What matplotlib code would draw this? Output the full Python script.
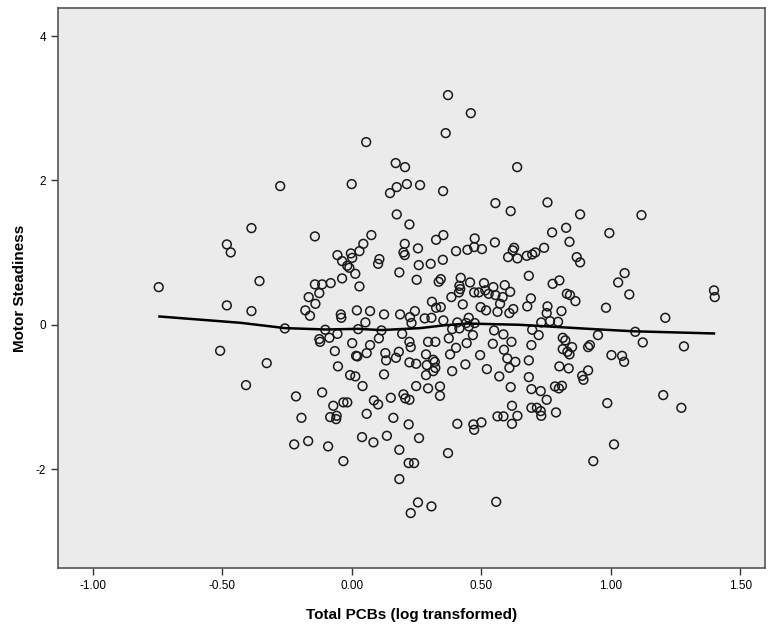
import matplotlib
matplotlib.use("Agg")
import matplotlib.pyplot as plt
import numpy as np

# Data
pcb_log = [
    -0.276, 0.000, 0.056, 0.170, 0.206, 0.213, 0.174, 0.148, 0.264, 0.372, 0.460, 0.363, 0.639, 0.353,
    -0.482, -0.467, -0.745, -0.482, -0.508,
    0.174, 0.223, -0.387, -0.142, 0.076, 0.045, 0.205, 0.030, -0.003, -0.055, 0.002, 0.200, 0.205, 0.256,
    0.107, 0.102, -0.037, -0.017, -0.009, 0.259, 0.014, 0.184, -0.356, -0.037, 0.251, -0.142, -0.114,
    -0.081, 0.030, -0.125, -0.166, -0.140, -0.179, -0.161, -0.387, 0.020, 0.071, 0.125, 0.187, 0.244,
    -0.042, -0.040, 0.225, 0.053, 0.231, -0.258, -0.102, 0.025, 0.115, -0.055, -0.086, -0.125, -0.122,
    0.195, 0.105, 0.002, 0.071, 0.223, 0.228, -0.065, 0.017, 0.022, 0.058, 0.130, 0.133, 0.171, 0.182,
    -0.328, -0.053, 0.223, 0.249, 0.125, -0.006, 0.014, -0.408, 0.042, 0.249,
    0.555, 0.756, 0.614, 0.882, 0.828, 0.774, 0.354, 0.326, 0.475, 0.553, 0.841, 0.403, 0.447, 0.473,
    0.503, 0.627, 0.622, 0.604, 0.640, 0.676, 0.697, 0.709, 0.743, 0.869, 0.882, 0.352, 0.305, 0.684,
    0.344, 0.336, 0.421, 0.457, 0.511, 0.547, 0.591, 0.802, 0.776, 0.416, 0.419, 0.414, 0.473, 0.491,
    0.516, 0.529, 0.555, 0.583, 0.612, 0.831, 0.843, 0.864, 0.692, 0.385, 0.310, 0.573, 0.429, 0.326,
    0.344, 0.498, 0.519, 0.563, 0.624, 0.609, 0.678, 0.756, 0.753, 0.810, 0.282, 0.308, 0.354, 0.452,
    0.408, 0.442, 0.475, 0.732, 0.766, 0.797, 0.388, 0.416, 0.452, 0.550, 0.697, 0.951, 0.586, 0.722,
    0.468, 0.815, 0.825, 0.375, 0.295, 0.323, 0.444, 0.545, 0.617, 0.694, 0.403, 0.588, 0.815, 0.851,
    0.913, 0.920, 0.287, 0.380, 0.496, 0.833, 0.841, 0.601, 0.632, 0.315, 0.321, 0.290, 0.323, 0.684,
    0.439, 0.802, 0.838, 0.609, 0.913, 0.522, 0.388, 0.287, 0.315, 0.570, 0.684, 0.890, 0.895,
    1.119, 0.995, 1.054, 1.029, 1.072, 1.399, 1.402, 0.982, 1.211, 1.095, 1.124, 1.283, 1.003, 1.044, 1.052,
    -0.215, -0.114, -0.071, -0.032, -0.017, 0.086, 0.102, 0.151, 0.200, 0.207, 0.223, -0.194, -0.083,
    -0.058, -0.060, 0.058, 0.161, 0.220, -0.222, -0.168, -0.091, 0.040, 0.084, 0.136, 0.260, 0.184,
    -0.032, 0.220, 0.241, 0.184, 0.256, 0.228,
    0.295, 0.341, 0.341, 0.614, 0.694, 0.730, 0.785, 0.800, 0.812, 0.753, 0.619, 0.694, 0.715, 0.730,
    0.732, 0.789, 0.563, 0.586, 0.640, 0.619, 0.408, 0.470, 0.473, 0.501, 0.372, 0.933, 0.308, 0.558,
    0.987, 1.203, 1.273, 1.013,
]

motor_steadiness = [
    1.922, 1.950, 2.532, 2.241, 2.185, 1.950, 1.908, 1.825, 1.936, 3.183, 2.933, 2.656, 2.185, 1.853,
    1.114, 1.003, 0.522, 0.269, -0.360,
    1.530, 1.391, 1.340, 1.225, 1.243, 1.122, 1.122, 1.021, 0.989, 0.966, 0.928, 1.003, 0.966, 1.059,
    0.910, 0.845, 0.883, 0.818, 0.790, 0.827, 0.707, 0.726, 0.606, 0.643, 0.624, 0.560, 0.560,
    0.578, 0.532, 0.439, 0.384, 0.291, 0.200, 0.125, 0.190, 0.200, 0.190, 0.144, 0.144, 0.190,
    0.144, 0.097, 0.107, 0.033, 0.024, -0.050, -0.069, -0.060, -0.078, -0.125, -0.180, -0.198, -0.236,
    -0.125, -0.188, -0.254, -0.281, -0.236, -0.309, -0.364, -0.430, -0.438, -0.392, -0.392, -0.493, -0.457, -0.374,
    -0.531, -0.576, -0.521, -0.540, -0.687, -0.697, -0.715, -0.836, -0.849, -0.849,
    1.686, 1.696, 1.575, 1.530, 1.344, 1.280, 1.243, 1.178, 1.197, 1.142, 1.150, 1.021, 1.039, 1.077,
    1.049, 1.067, 1.031, 0.938, 0.920, 0.956, 0.975, 1.003, 1.067, 0.938, 0.865, 0.901, 0.845, 0.679,
    0.633, 0.596, 0.651, 0.587, 0.578, 0.522, 0.550, 0.615, 0.568, 0.540, 0.495, 0.449, 0.449, 0.449,
    0.477, 0.430, 0.412, 0.384, 0.457, 0.430, 0.412, 0.328, 0.366, 0.384, 0.319, 0.291, 0.283, 0.236,
    0.245, 0.245, 0.200, 0.180, 0.218, 0.162, 0.255, 0.255, 0.162, 0.190, 0.089, 0.097, 0.061, 0.097,
    0.033, 0.024, 0.024, 0.033, 0.051, 0.042, -0.060, -0.050, -0.022, -0.078, -0.069, -0.143, -0.133, -0.143,
    -0.143, -0.180, -0.216, -0.188, -0.236, -0.236, -0.254, -0.263, -0.236, -0.281, -0.319, -0.346, -0.337, -0.309,
    -0.309, -0.281, -0.410, -0.410, -0.420, -0.374, -0.410, -0.466, -0.513, -0.485, -0.513, -0.558, -0.596, -0.493,
    -0.549, -0.576, -0.604, -0.596, -0.632, -0.614, -0.642, -0.697, -0.642, -0.715, -0.725, -0.707, -0.762,
    1.520, 1.271, 0.716, 0.587, 0.421, 0.477, 0.384, 0.236, 0.097, -0.097, -0.244, -0.299, -0.420, -0.430, -0.513,
    -0.992, -0.937, -1.122, -1.075, -1.075, -1.048, -1.103, -1.011, -0.964, -1.020, -1.039, -1.289, -1.279,
    -1.261, -1.307, -1.233, -1.289, -1.380, -1.657, -1.611, -1.685, -1.556, -1.629, -1.538, -1.570, -1.732,
    -1.889, -1.916, -1.916, -2.138, -2.461, -2.609,
    -0.881, -0.854, -0.984, -0.863, -0.891, -0.919, -0.854, -0.881, -0.845, -1.039, -1.122, -1.150, -1.150, -1.196,
    -1.261, -1.214, -1.269, -1.269, -1.261, -1.372, -1.372, -1.380, -1.455, -1.352, -1.778, -1.889, -2.516, -2.453,
    -1.085, -0.974, -1.150, -1.657,
]

# Loess fit line
fit_x = [-0.742, -0.43, -0.257, -0.10, 0.024, 0.115, 0.264, 0.35, 0.444, 0.65, 0.959, 1.09, 1.399]
fit_y = [0.115, 0.028, -0.046, -0.065, -0.056, -0.073, -0.046, -0.010, 0.018, 0.000, -0.065, -0.090, -0.120]

x_ticks = [-1.0, -0.5, 0.0, 0.5, 1.0, 1.5]
x_ticklabels = ["-1.00", "-0.50", "0.00", "0.50", "1.00", "1.50"]
y_ticks = [-2, 0, 2, 4]
y_ticklabels = ["-2", "0", "2", "4"]

plt.rcParams['font.family'] = ['Liberation Sans', 'DejaVu Sans']

fig = plt.figure(figsize=(7.69, 6.33), dpi=100)
ax = fig.add_axes([58 / 769, 1 - 568 / 633, (765 - 58) / 769, (568 - 8) / 633])
ax.set_facecolor('#ebebeb')

ax.scatter(pcb_log, motor_steadiness, s=40, facecolors='none', edgecolors='#1a1a1a',
           linewidths=1.1, zorder=3)
ax.plot(fit_x, fit_y, color='black', linewidth=1.8, zorder=4)

ax.set_xlim(-1.134, 1.596)
ax.set_ylim(-3.37, 4.39)
ax.set_xticks(x_ticks)
ax.set_xticklabels(x_ticklabels)
ax.set_yticks(y_ticks)
ax.set_yticklabels(y_ticklabels)
ax.tick_params(direction='out', length=5, width=1, colors='#333333', labelsize=8.5,
               labelcolor='black')
for sp in ax.spines.values():
    sp.set_color('#555555')
    sp.set_linewidth(1.2)

ax.set_xlabel('Total PCBs (log transformed)', fontsize=11, fontweight='bold', labelpad=12)
ax.set_ylabel('Motor Steadiness', fontsize=11, fontweight='bold', labelpad=6)

fig.savefig('out.png', dpi=100, facecolor='white')
